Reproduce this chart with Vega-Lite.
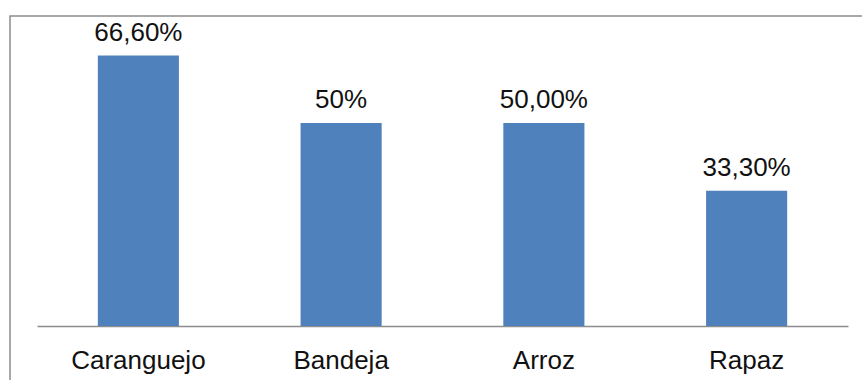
{
  "$schema": "https://vega.github.io/schema/vega-lite/v6.json",
  "autosize": "none",
  "width": 870,
  "height": 400,
  "padding": {"left": 10, "top": 16, "right": 0, "bottom": 0},
  "background": "white",
  "config": {
    "view": {"stroke": "#8c8c8c", "strokeWidth": 1.5},
    "font": "Liberation Sans"
  },
  "data": {
    "values": [
      {"categoria": "Caranguejo", "valor": 0.666, "rotulo": "66,60%"},
      {"categoria": "Bandeja", "valor": 0.5, "rotulo": "50%"},
      {"categoria": "Arroz", "valor": 0.5, "rotulo": "50,00%"},
      {"categoria": "Rapaz", "valor": 0.333, "rotulo": "33,30%"}
    ]
  },
  "encoding": {
    "x": {
      "field": "categoria",
      "type": "nominal",
      "sort": null,
      "scale": {"range": [27, 838], "paddingInner": 0.6, "paddingOuter": 0.3},
      "axis": {
        "title": null,
        "labelAngle": 0,
        "labelFontSize": 26,
        "labelColor": "#111",
        "labelPadding": 21,
        "ticks": false,
        "domainColor": "#8c8c8c",
        "domainWidth": 1.5,
        "offset": -90,
        "grid": false
      }
    },
    "y": {
      "field": "valor",
      "type": "quantitative",
      "scale": {"domain": [0, 0.7635], "range": [310, 0], "nice": false},
      "axis": null
    }
  },
  "layer": [
    {"mark": {"type": "bar", "color": "#4F81BD"}},
    {
      "mark": {"type": "text", "baseline": "bottom", "dy": -10, "fontSize": 26, "color": "#111"},
      "encoding": {"text": {"field": "rotulo"}}
    }
  ]
}
